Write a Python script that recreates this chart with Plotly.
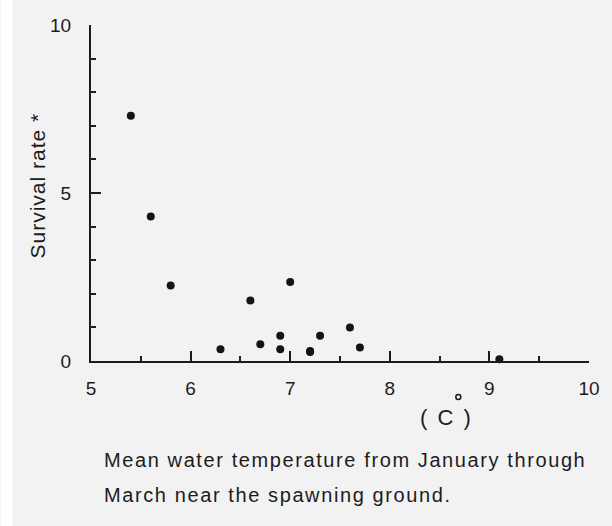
import plotly.graph_objects as go

# Data
temperature = [5.4, 5.6, 5.8, 6.3, 6.6, 6.7, 6.9, 6.9, 7.0, 7.2, 7.2, 7.3, 7.6, 7.7, 9.1]
survival = [7.3, 4.3, 2.25, 0.35, 1.8, 0.5, 0.75, 0.35, 2.35, 0.3, 0.27, 0.75, 1.0, 0.4, 0.05]
x_ticks = [5, 6, 7, 8, 9, 10]
y_ticks = [0, 5, 10]

W, H = 612, 526
L, R, T, B = 91, 18, 25, 165
pw, ph = W - L - R, H - T - B

def px(x):
    return (x - L) / pw

def py(y):
    return (H - B - y) / ph

ink = "#1c1c1c"
bg = "#f2f2f2"
FONT = "Liberation Sans, Arial, sans-serif"

fig = go.Figure()
fig.add_trace(go.Scatter(
    x=temperature, y=survival, mode="markers",
    marker=dict(size=8, color="#141414"),
    showlegend=False, cliponaxis=False,
))

axis_common = dict(
    showline=True, linecolor=ink, linewidth=2,
    ticks="inside", ticklen=10, tickwidth=2, tickcolor=ink,
    showgrid=False, zeroline=False,
    tickfont=dict(family=FONT, size=19, color=ink),
)

fig.update_xaxes(range=[5, 10], tickvals=x_ticks, ticktext=[str(v) for v in x_ticks],
                 minor=dict(ticks="inside", ticklen=5, tickwidth=2, tickcolor=ink, dtick=0.5, showgrid=False),
                 ticklabelstandoff=9, **axis_common)
fig.update_yaxes(range=[0, 10], tickvals=y_ticks, ticktext=[str(v) for v in y_ticks],
                 minor=dict(ticks="inside", ticklen=5, tickwidth=2, tickcolor=ink, dtick=1, showgrid=False),
                 ticklabelstandoff=14, **axis_common)

ann = []
ann.append(dict(text='<span style="letter-spacing:1px">Survival rate *</span>',
                x=px(36), y=py(186), xref="paper", yref="paper", textangle=-90,
                showarrow=False, xanchor="center", yanchor="middle",
                font=dict(family=FONT, size=21, color=ink)))
ann.append(dict(text='<span style="letter-spacing:2px">( C )</span>', x=px(450), y=py(417),
                xref="paper", yref="paper",
                showarrow=False, xanchor="center", yanchor="middle",
                font=dict(family=FONT, size=22, color=ink)))
caption = ["Mean water temperature from January through",
           "March near the spawning ground."]
for line, yc in zip(caption, [460, 495]):
    ann.append(dict(text='<span style="letter-spacing:1.6px">' + line + '</span>',
                    x=px(102), y=py(yc), xref="paper", yref="paper",
                    showarrow=False, xanchor="left", yanchor="middle",
                    font=dict(family=FONT, size=20, color=ink)))

shapes = [
    dict(type="rect", xref="paper", yref="paper", x0=px(0), x1=px(12),
         y0=py(H), y1=py(0), fillcolor="white", line=dict(width=0), layer="below"),
    # degree mark of the unit label
    dict(type="circle", xref="paper", yref="paper", xsizemode="pixel", ysizemode="pixel",
         xanchor=px(462), yanchor=py(397), x0=-2.5, x1=2.5, y0=-2.5, y1=2.5,
         line=dict(color=ink, width=1.5), fillcolor="rgba(0,0,0,0)"),
]

fig.update_layout(
    width=W, height=H,
    margin=dict(l=L, r=R, t=T, b=B),
    paper_bgcolor=bg, plot_bgcolor=bg,
    annotations=ann,
    shapes=shapes,
)

fig.write_html("out.html", config={"displayModeBar": False},
               post_script="document.body.style.margin='0';document.body.style.overflow='hidden';")
